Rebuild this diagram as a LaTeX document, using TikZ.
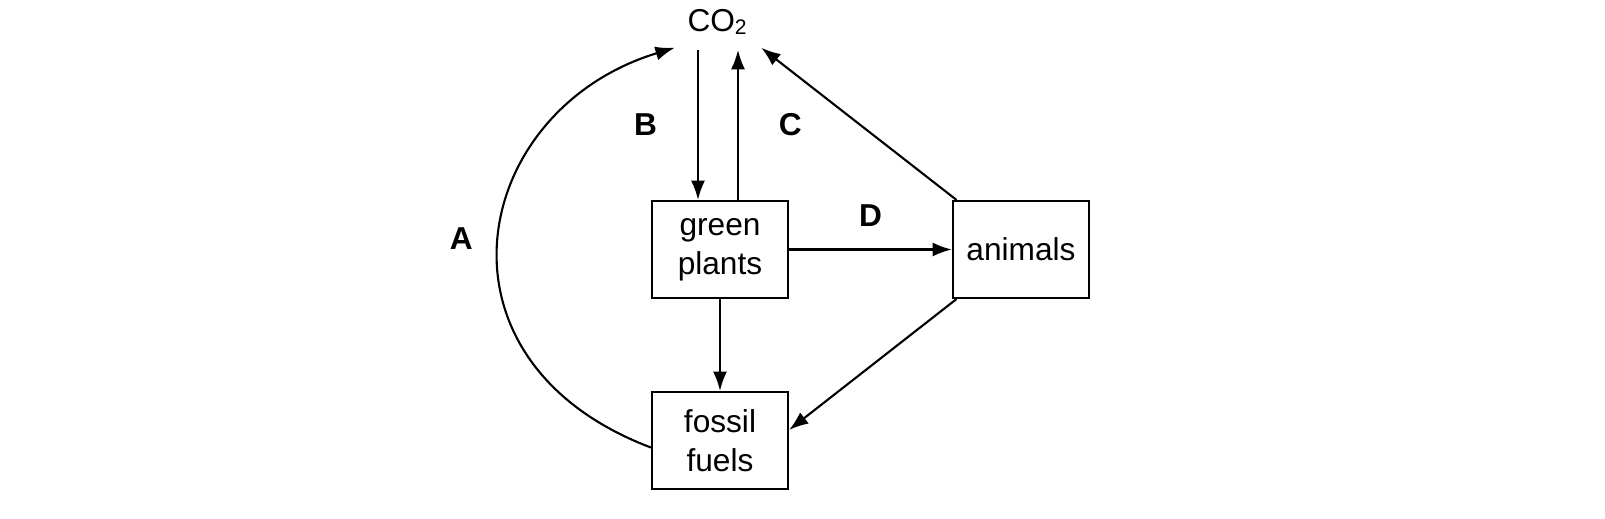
\documentclass[tikz,border=0pt]{standalone}
\usepackage{fontspec}
\setmainfont{Liberation Sans}
\usetikzlibrary{arrows.meta,positioning}

\begin{document}
\begin{tikzpicture}[x=0.01cm, y=-0.01cm,
            font=\fontsize{9}{11}\selectfont,
            box/.style = {draw, line width=0.6pt, minimum width=1.36cm,
                    minimum height=0.97cm, align=center, inner sep=0pt},
            lbl/.style = {font=\fontsize{9}{11}\selectfont\bfseries},
            every path/.style = {line width=0.6pt},
            arr/.style = {-{Latex[length=5.5pt,width=4pt]}}]
        \useasboundingbox (0,0) rectangle (1605,519);

        \node (co2) at (718,22) {CO\textsubscript{2}};
        \node [box] (plants) at (720,249.5) {green\\plants};
        \node [box] (animals) at (1021,249.5) {animals};
        \node [box] (fossil) at (720,440.5) {fossil\\fuels};

        \coordinate (bTop) at (698,50);
        \coordinate (cTop) at (738,50);
        %%
        \draw [arr] (bTop) -- (bTop |- plants.north)
            node [lbl, midway, left=8pt] {B};
        \draw [arr] (cTop |- plants.north) -- (cTop)
            node [lbl, midway, right=8pt] {C};
        \draw [arr] (plants.east) -- (animals.west)
            node [lbl, midway, above=3pt] {D};
        \draw [arr] ([xshift=-38pt] animals.north east) -- (co2.south east);
        \draw [arr] (plants.south) -- (fossil.north);
        \draw [arr] ([xshift=-38pt] animals.south east) -- ([yshift=3pt] fossil.east);
        \draw [arr] ([yshift=-2pt] fossil.west) .. controls (420,360) and (470,110) .. (co2.south west)
            node [lbl, pos=0.5, left=4pt] {A};
    \end{tikzpicture}
\end{document}
